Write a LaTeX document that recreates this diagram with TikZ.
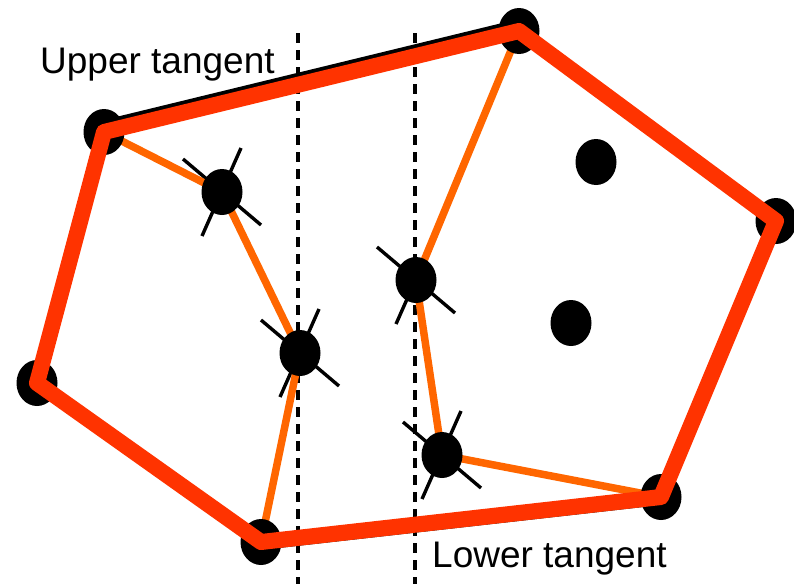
\documentclass[tikz,border=0pt]{standalone}
\usepackage{xcolor}
\usepackage{fontspec}
\setmainfont{Liberation Sans}
\usepackage{tikz}
\usetikzlibrary{shapes.geometric, calc}
\definecolor{colHull}{RGB}{255,51,0}
\definecolor{colPath}{RGB}{255,102,0}

\begin{document}
\begin{tikzpicture}[
  x=1pt, y=-1pt,
  dot/.style={ellipse, fill=black, inner sep=0pt,
              minimum width=41pt, minimum height=46pt},
  hull/.style={draw=colHull, line width=16pt, line join=round},
  inner/.style={draw=colPath, line width=7.5pt, line join=round},
  tang/.style={draw=black, line width=6pt},
  split/.style={draw=black, line width=3.2pt, dash pattern=on 10pt off 7pt},
  tick/.style={draw=black, line width=3.4pt},
  lbl/.style={font=\fontsize{37}{41}\selectfont, anchor=base west, inner sep=0pt},
]
\useasboundingbox (0,0) rectangle (794,584);

% hull points
\coordinate (ul) at (104,132);
\coordinate (top) at (519,31);
\coordinate (rt) at (776,221);
\coordinate (lr) at (661,497);
\coordinate (bot) at (261,542);
\coordinate (lf) at (37,383);

% points that get removed
\coordinate (p1) at (222,192);
\coordinate (p2) at (300,353);
\coordinate (q1) at (416,280);
\coordinate (q2) at (442,455);

% points inside
\coordinate (r1) at (596,162);
\coordinate (r2) at (571,323);

% dividing lines
\coordinate (s1t) at (298,33);
\coordinate (s1b) at (298,584);
\coordinate (s2t) at (415,33);
\coordinate (s2b) at (415,584);
\draw[split] (s1t) -- (s1b);
\draw[split] (s2t) -- (s2b);

% ticks
\foreach \n in {p1,p2,q1,q2} {
  \draw[tick] ([shift={(-39,-33)}]\n) -- ([shift={(39,33)}]\n);
  \draw[tick] ([shift={(19,-44)}]\n) -- ([shift={(-20,44)}]\n);
}

% old hulls
\draw[inner] (ul) -- (p1) -- (p2) -- (bot);
\draw[inner] (top) -- (q1) -- (q2) -- (lr);

% dots
\foreach \n in {ul,top,rt,lr,bot,lf,p1,p2,q1,q2,r1,r2}
  \node[dot] (d\n) at (\n) {};

% tangents
\draw[tang] ([shift={(0,-9)}]dul.center) -- ([shift={(0,-9)}]dtop.center);
\draw[tang, line width=4pt] ([shift={(0,6)}]dbot.center) -- ([shift={(0,6)}]dlr.center);

% merged hull
\draw[hull] (dul.center) -- (dtop.center) -- (drt.center) -- (dlr.center)
  -- (dbot.center) -- (dlf.center) -- cycle;

\node[lbl] (upper) at (40,73) {Upper tangent};
\node[lbl] (lower) at (432,567) {Lower tangent};

\end{tikzpicture}
\end{document}
